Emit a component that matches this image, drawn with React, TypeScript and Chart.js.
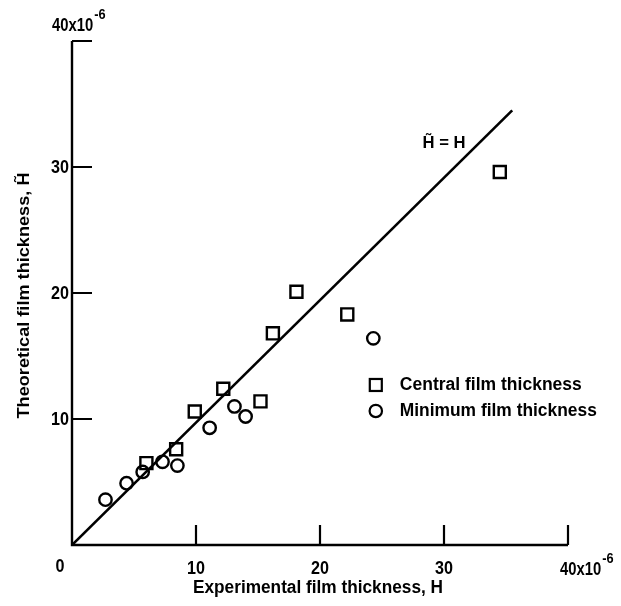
import React, { useEffect, useRef } from "react";
import { Chart, registerables } from "chart.js";

Chart.register(...registerables);

// Central film thickness (x = experimental, y = theoretical), units of 1e-6
const centralX = [34.5, 18.1, 16.2, 22.2, 12.2, 15.2, 9.9, 8.4, 6.0];
const centralY = [29.6, 20.1, 16.8, 18.3, 12.4, 11.4, 10.6, 7.6, 6.5];

// Minimum film thickness
const minimumX = [2.7, 4.4, 5.7, 7.3, 8.5, 11.1, 13.1, 14.0, 24.3];
const minimumY = [3.6, 4.9, 5.8, 6.6, 6.3, 9.3, 11.0, 10.2, 16.4];

// Reference line H~ = H
const lineX = [0, 35.5];
const lineY = [0, 34.5];

const tickValues = [10, 20, 30, 40];
const axisMin = 0;
const axisMax = 40;

const seriesNames = ["Central film thickness", "Minimum film thickness"];
const lineLabel = "H\u0303 = H";
const xTitle = "Experimental film thickness, H";
const yTitle = "Theoretical film thickness, H\u0303";

const FAMILY = "'Liberation Sans', Arial, sans-serif";

type TOpt = { size?: number; align?: "left" | "center" | "right"; sx?: number; width?: number; bold?: boolean };

function drawText(ctx: CanvasRenderingContext2D, s: string, x: number, y: number, o: TOpt = {}) {
  const size = o.size ?? 18;
  ctx.save();
  ctx.font = `${o.bold === false ? "" : "bold "}${size}px ${FAMILY}`;
  ctx.textBaseline = "middle";
  ctx.textAlign = "left";
  const w = ctx.measureText(s).width;
  const sx = o.width ? o.width / w : o.sx ?? 0.85;
  const tw = w * sx;
  const align = o.align ?? "left";
  const left = align === "left" ? x : align === "center" ? x - tw / 2 : x - tw;
  ctx.translate(left, y);
  ctx.scale(sx, 1);
  ctx.fillText(s, 0, 0);
  ctx.restore();
  return tw;
}

const axesPlugin = {
  id: "customAxes",
  afterDatasetsDraw(chart: any) {
    const ctx = chart.ctx as CanvasRenderingContext2D;
    const xs = chart.scales.x;
    const ys = chart.scales.y;
    const x0 = xs.getPixelForValue(axisMin);
    const x1 = xs.getPixelForValue(axisMax);
    const y0 = ys.getPixelForValue(axisMin);
    const y1 = ys.getPixelForValue(axisMax);
    ctx.save();
    ctx.strokeStyle = "#000";
    ctx.fillStyle = "#000";
    ctx.lineWidth = 2.4;
    ctx.lineCap = "butt";
    ctx.beginPath();
    ctx.moveTo(x0, y1);
    ctx.lineTo(x0, y0);
    ctx.lineTo(x1, y0);
    ctx.stroke();
    const tl = 20;
    ctx.lineWidth = 2.2;
    tickValues.forEach((v) => {
      const px = xs.getPixelForValue(v);
      const py = ys.getPixelForValue(v);
      ctx.beginPath();
      ctx.moveTo(px, y0);
      ctx.lineTo(px, y0 - tl);
      ctx.moveTo(x0, py);
      ctx.lineTo(x0 + tl, py);
      ctx.stroke();
    });

    // tick labels
    drawText(ctx, "0", x0 - 12, y0 + 22, { size: 19, align: "center" });
    tickValues.forEach((v) => {
      if (v === axisMax) return;
      drawText(ctx, String(v), xs.getPixelForValue(v), y0 + 24, { size: 19, align: "center" });
      drawText(ctx, String(v), x0 - 3, ys.getPixelForValue(v) + 1, { size: 19, align: "right" });
    });

    const drawSci = (left: number, cy: number) => {
      const bw = drawText(ctx, "40x10", left, cy, { size: 19, sx: 0.78 });
      drawText(ctx, "-6", left + bw + 1, cy - 11, { size: 15, sx: 0.85 });
    };
    drawSci(x1 - 8, y0 + 25);
    drawSci(x0 - 20, y1 - 15);

    // axis titles
    drawText(ctx, xTitle, (x0 + x1) / 2 - 2, y0 + 43, { size: 18, align: "center", width: 250 });
    ctx.save();
    ctx.translate(x0 - 48, ys.getPixelForValue(19.8));
    ctx.rotate(-Math.PI / 2);
    drawText(ctx, yTitle, 0, 0, { size: 17, align: "center", width: 246 });
    ctx.restore();

    // line label
    drawText(ctx, lineLabel, xs.getPixelForValue(30.0), ys.getPixelForValue(31.9), { size: 17, align: "center", width: 43 });

    // legend
    const lx = xs.getPixelForValue(24.5);
    const ly1 = ys.getPixelForValue(12.7);
    const ly2 = ly1 + 26;
    ctx.lineWidth = 2.2;
    ctx.strokeRect(lx - 6, ly1 - 6, 12, 12);
    ctx.beginPath();
    ctx.arc(lx, ly2, 6.2, 0, Math.PI * 2);
    ctx.stroke();
    drawText(ctx, seriesNames[0], lx + 24, ly1, { size: 18, width: 182 });
    drawText(ctx, seriesNames[1], lx + 24, ly2, { size: 18, width: 197 });
    ctx.restore();
  },
};

export default function App() {
  const ref = useRef<HTMLCanvasElement | null>(null);
  useEffect(() => {
    document.body.style.margin = "0";
    const canvas = ref.current;
    if (!canvas) return;
    const chart = new Chart(canvas, {
      type: "scatter",
      data: {
        datasets: [
          {
            type: "line",
            label: "line",
            data: lineX.map((x, i) => ({ x, y: lineY[i] })),
            borderColor: "#000",
            borderWidth: 2.6,
            pointRadius: 0,
            fill: false,
          } as any,
          {
            label: seriesNames[0],
            data: centralX.map((x, i) => ({ x, y: centralY[i] })),
            pointStyle: "rect",
            pointRadius: 8.5,
            borderColor: "#000",
            backgroundColor: "rgba(255,255,255,0)",
            borderWidth: 2.4,
          },
          {
            label: seriesNames[1],
            data: minimumX.map((x, i) => ({ x, y: minimumY[i] })),
            pointStyle: "circle",
            pointRadius: 6.2,
            borderColor: "#000",
            backgroundColor: "rgba(255,255,255,0)",
            borderWidth: 2.4,
          },
        ],
      },
      options: {
        responsive: false,
        animation: false,
        layout: { padding: { left: 72, top: 41, right: 53, bottom: 61 } },
        scales: {
          x: { type: "linear", min: axisMin, max: axisMax, display: false },
          y: { type: "linear", min: axisMin, max: axisMax, display: false },
        },
        plugins: { legend: { display: false }, tooltip: { enabled: false } },
      },
      plugins: [axesPlugin],
    });
    return () => chart.destroy();
  }, []);
  return (
    <div style={{ width: 621, height: 606, background: "#fff" }}>
      <canvas ref={ref} width={621} height={606} />
    </div>
  );
}
